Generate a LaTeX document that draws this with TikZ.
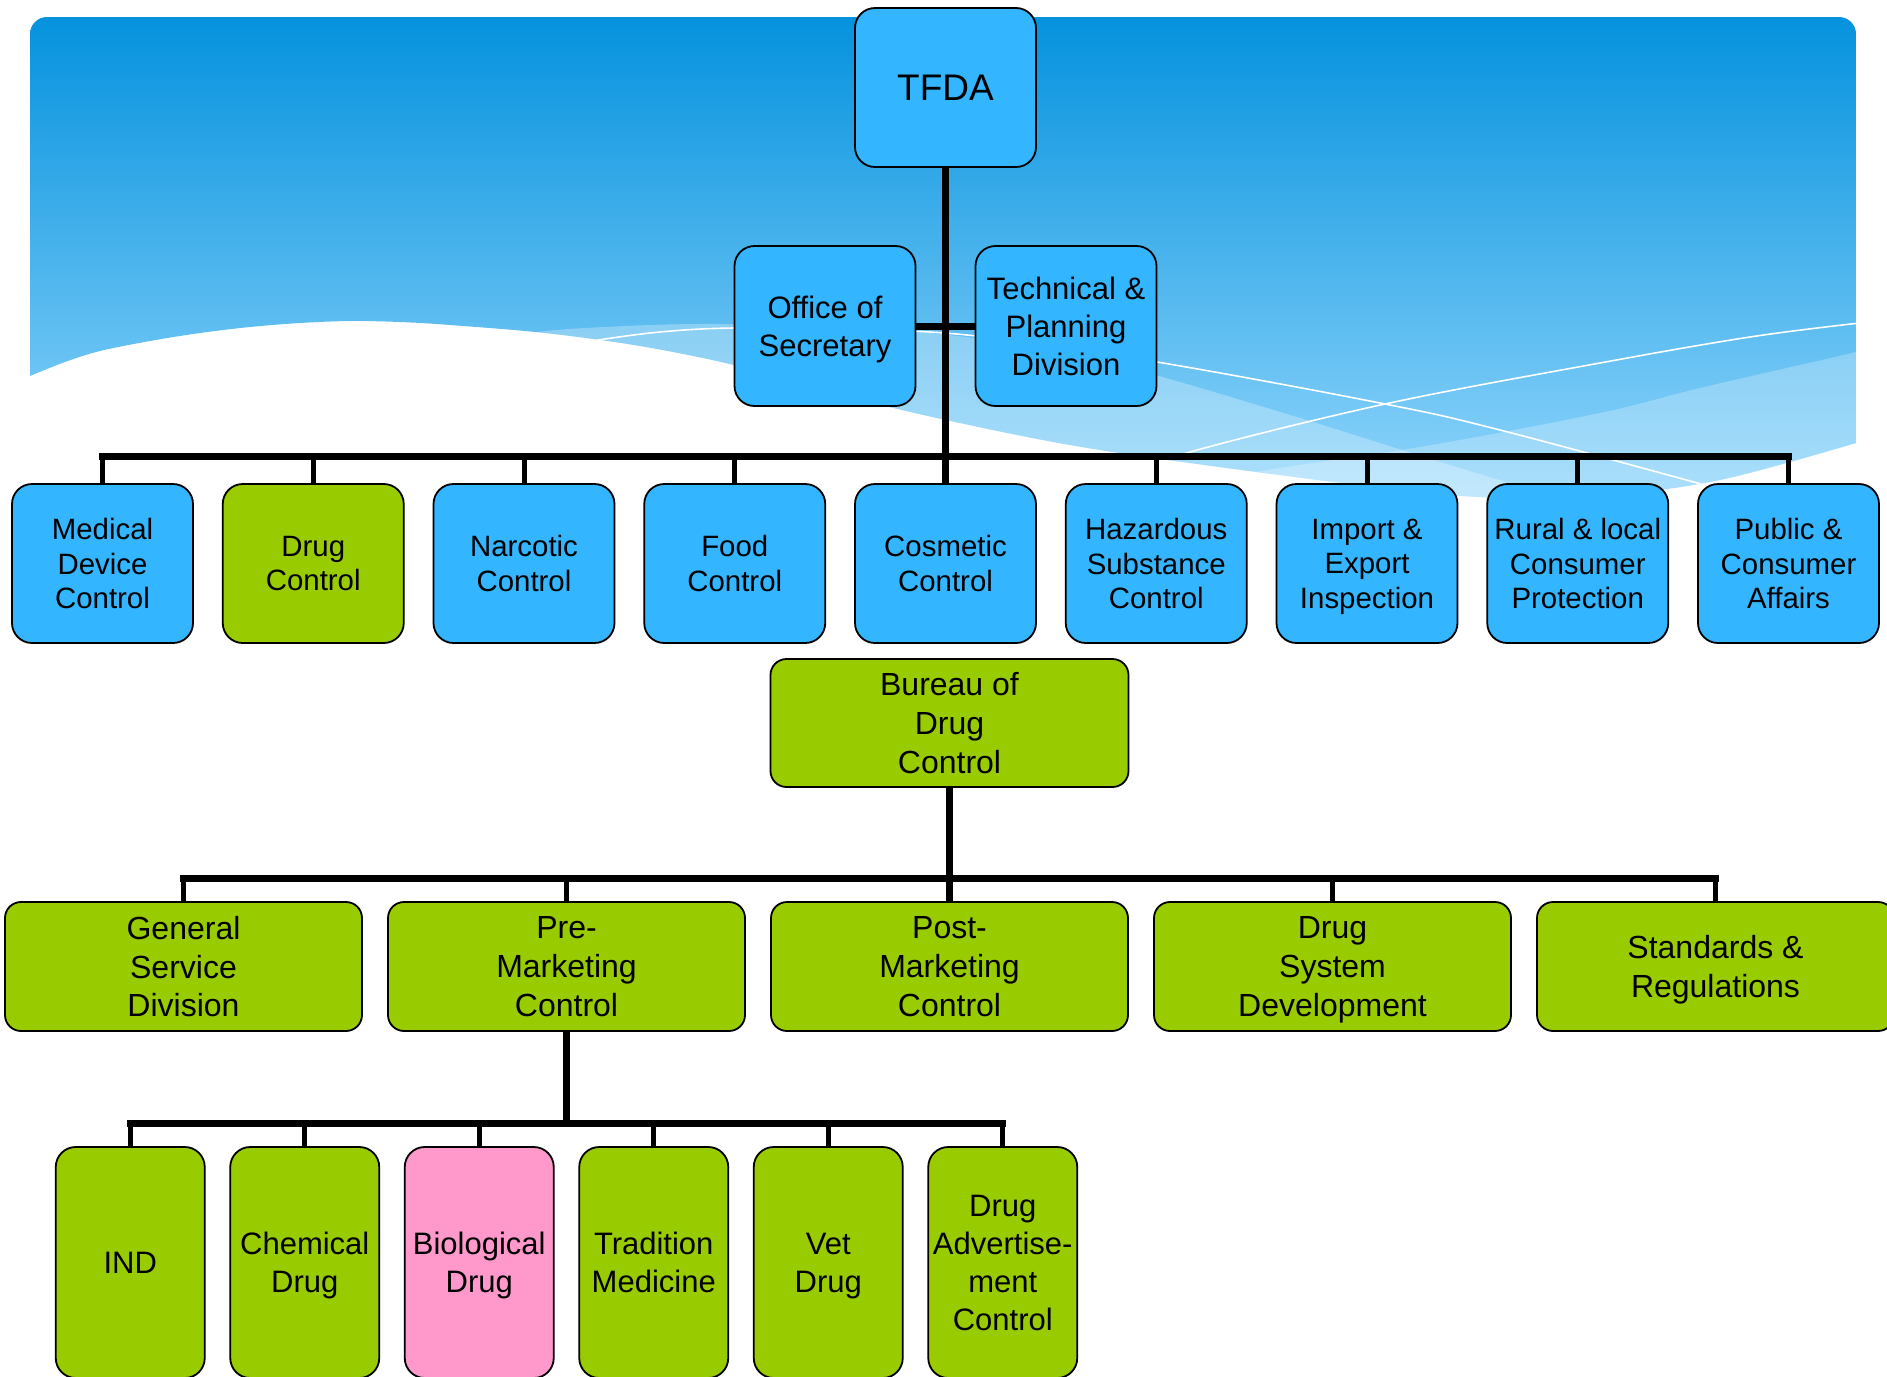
\documentclass[tikz,border=0pt]{standalone}
\usepackage{fontspec}
\setmainfont{Liberation Sans}
\usetikzlibrary{shapes,arrows}

\definecolor{skyblue}{HTML}{33B5FF}
\definecolor{leafgreen}{HTML}{99CC00}
\definecolor{rosepink}{HTML}{FF99CC}
\definecolor{bgtop}{HTML}{0592DE}
\definecolor{bgbottom}{HTML}{8FD5FB}

\begin{document}
\begin{tikzpicture}[x=0.5pt, y=-0.5pt, node distance=105.375pt]
	%define block styles
	\tikzset{
		agencybox/.style={rectangle, rounded corners=10pt, minimum width=90.5pt, minimum height=79.5pt, align=center, inner sep=1pt, text depth=0pt, draw=black, line width=0.9pt, fill=skyblue, font=\fontsize{18.5}{22}\selectfont},
		staffbox/.style={agencybox, minimum height=80pt, font=\fontsize{15.5}{19}\selectfont},
		divbox/.style={agencybox, font=\fontsize{14.7}{17.25}\selectfont},
		bureaubox/.style={rectangle, rounded corners=8pt, minimum width=179pt, minimum height=64pt, align=center, inner sep=1pt, text depth=0pt, draw=black, line width=0.9pt, fill=leafgreen, font=\fontsize{16}{19.3}\selectfont},
		secbox/.style={bureaubox, minimum width=178.5pt, minimum height=64.5pt},
		unitbox/.style={rectangle, rounded corners=10pt, minimum width=74.5pt, minimum height=115.5pt, align=center, inner sep=0.5pt, text depth=0pt, draw=black, line width=0.9pt, fill=leafgreen, font=\fontsize{15.5}{19}\selectfont},
		busline/.style={line width=3.5pt, line cap=rect},
		dropline/.style={line width=2.5pt},
		stemline/.style={line width=3.5pt},
		waveline/.style={white, line width=0.8pt},}
	%background
	\useasboundingbox (0,0) rectangle (1887,1377);
	\clip (0,0) rectangle (1887,1377);
	\begin{scope}
		\clip (30,376) [rounded corners=8.5pt] -- (30,17) -- (1856,17) -- (1856,300) [sharp corners]
			-- plot[smooth, tension=0.55] coordinates {(1856,443) (1720,480) (1600,496) (1480,497) (1350,484) (1100,450) (946,420) (830,392) (734,365) (640,346) (545,333) (450,325) (400,322) (350,321) (300,323) (250,327) (200,333) (150,341) (100,351) (65,362) (30,376)} -- cycle;
		\shade[top color=bgtop, bottom color=bgbottom] (30,17) rectangle (1856,498);
		\fill[white, opacity=0.28] plot[smooth, tension=0.6] coordinates {(450,345) (520,334) (586,328) (700,324) (840,327) (950,335) (1060,352) (1155,375) (1300,418) (1450,465) (1600,510)} -- (1600,600) -- (450,600) -- cycle;
		\fill[white, opacity=0.25] plot[smooth, tension=0.6] coordinates {(1900,340) (1856,352) (1700,388) (1600,413) (1420,447) (1250,473) (1100,505)} -- (1100,600) -- (1900,600) -- cycle;
		\draw[waveline] plot[smooth, tension=0.6] coordinates {(560,346) (591,341) (660,332) (734,328) (850,329) (977,336) (1157,362) (1385,404) (1500,430) (1705,485) (1760,500)};
		\draw[waveline] plot[smooth, tension=0.6] coordinates {(1150,470) (1190,452) (1385,404) (1600,363) (1750,337) (1860,323)};
	\end{scope}
	%define nodes
	\node[agencybox] (tfda) at (945.5,87.5) {TFDA};
	\node[staffbox, below of=tfda, node distance=119.25pt, xshift=-60.25pt] (sec) {Office of\\Secretary};
	\node[staffbox, below of=tfda, node distance=119.25pt, xshift=60.25pt] (tech) {Technical \&\\Planning\\Division};
	\node[divbox, below of=tfda, node distance=238pt] (cosm) {Cosmetic\\Control};
	\node[divbox, left of=cosm] (food) {Food\\Control};
	\node[divbox, left of=food] (narc) {Narcotic\\Control};
	\node[divbox, left of=narc, fill=leafgreen] (drug) {Drug\\Control};
	\node[divbox, left of=drug] (med) {Medical\\Device\\Control};
	\node[divbox, right of=cosm] (haz) {Hazardous\\Substance\\Control};
	\node[divbox, right of=haz] (impexp) {Import \&\\Export\\Inspection};
	\node[divbox, right of=impexp] (rural) {Rural \& local\\Consumer\\Protection};
	\node[divbox, right of=rural] (public) {Public \&\\Consumer\\Affairs};
	\node[bureaubox, below of=cosm, node distance=79.75pt, xshift=2pt] (bdc) {Bureau of\\Drug\\Control};
	\node[secbox, below of=bdc, node distance=121.75pt] (post) {Post-\\Marketing\\Control};
	\node[secbox, left of=post, node distance=191.5pt] (pre) {Pre-\\Marketing\\Control};
	\node[secbox, left of=pre, node distance=191.5pt] (gsd) {General\\Service\\Division};
	\node[secbox, right of=post, node distance=191.5pt] (dsd) {Drug\\System\\Development};
	\node[secbox, right of=dsd, node distance=191.5pt] (std) {Standards \&\\Regulations};
	\node[unitbox, below of=pre, node distance=148pt, xshift=43.625pt] (trad) {Tradition\\Medicine};
	\node[unitbox, left of=trad, node distance=87.25pt, fill=rosepink] (bio) {Biological\\Drug};
	\node[unitbox, left of=bio, node distance=87.25pt] (chem) {Chemical\\Drug};
	\node[unitbox, left of=chem, node distance=87.25pt] (ind) {IND};
	\node[unitbox, right of=trad, node distance=87.25pt] (vet) {Vet\\Drug};
	\node[unitbox, right of=vet, node distance=87.25pt] (adv) {Drug\\Advertise-\\ment\\Control};
	%define lines
	\draw[stemline] (tfda) -- (cosm);
	\draw[stemline] (sec) -- (tech);
	\coordinate (bus1) at (945.5,456);
	\draw[busline] (med.north |- bus1) -- (public.north |- bus1);
	\foreach \n in {med,drug,narc,food,haz,impexp,rural,public}
		\draw[dropline] (\n.north) -- (\n.north |- bus1);
	\draw[stemline] (bdc) -- (post);
	\coordinate (bus2) at (949.5,878.5);
	\draw[busline] (gsd.north |- bus2) -- (std.north |- bus2);
	\foreach \n in {gsd,pre,dsd,std}
		\draw[dropline] (\n.north) -- (\n.north |- bus2);
	\coordinate (bus3) at (566.5,1123.5);
	\draw[stemline] (pre) -- (bus3);
	\draw[busline] (ind.north |- bus3) -- (adv.north |- bus3);
	\foreach \n in {ind,chem,bio,trad,vet,adv}
		\draw[dropline] (\n.north) -- (\n.north |- bus3);
\end{tikzpicture}
\end{document}
